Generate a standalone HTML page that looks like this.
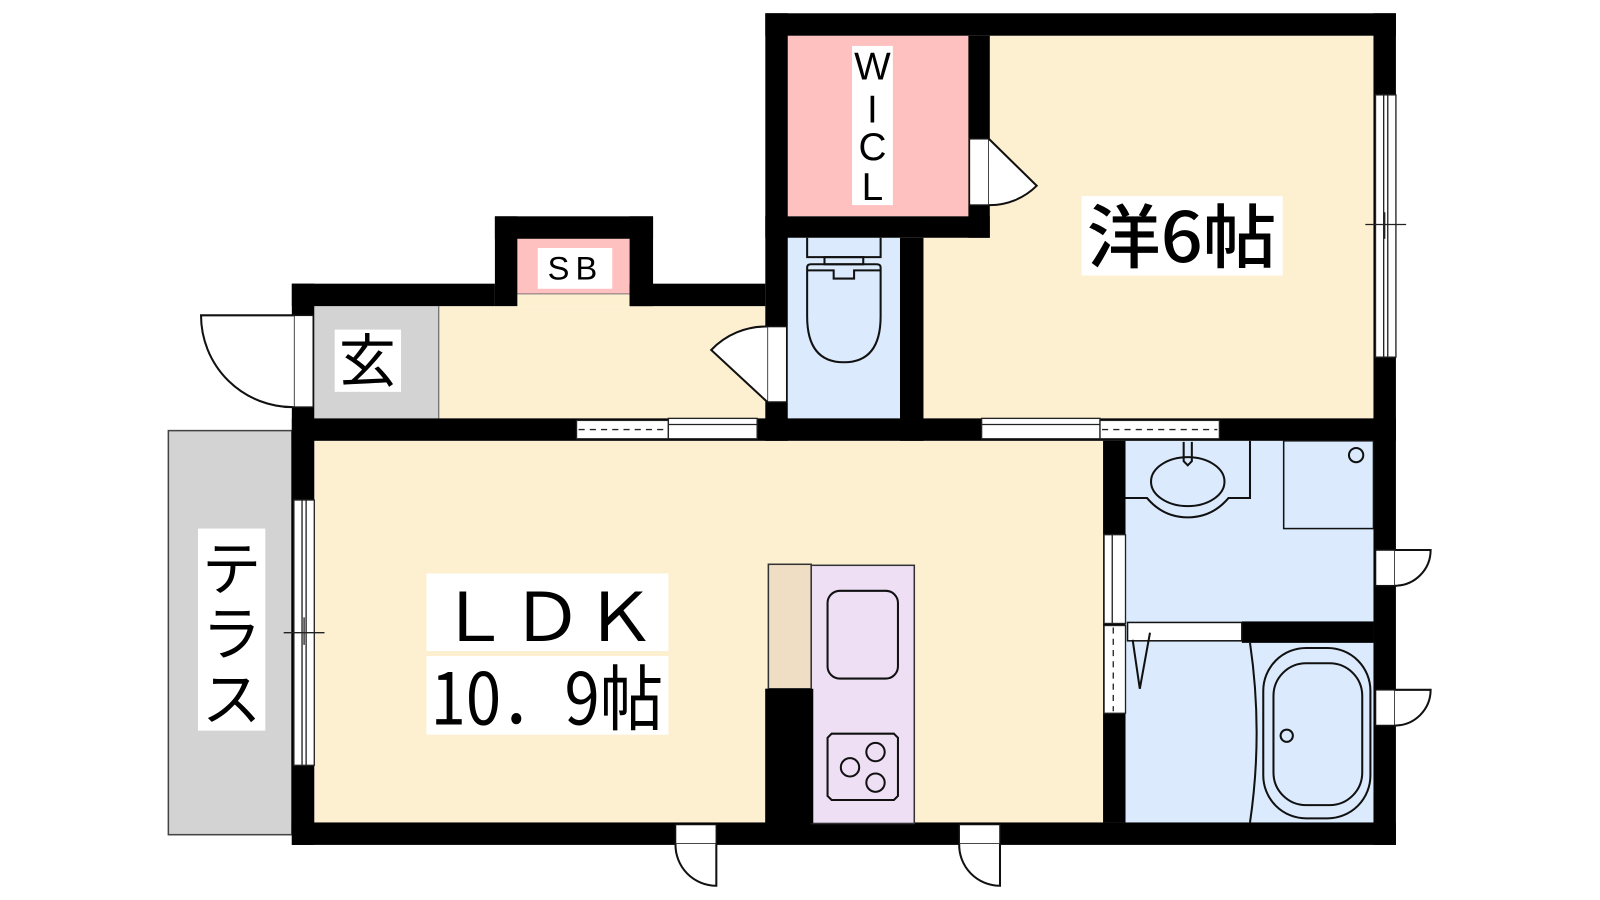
<!DOCTYPE html>
<html><head><meta charset="utf-8"><style>html,body{margin:0;padding:0;background:#fff}svg{display:block}</style></head>
<body>
<svg width="1600" height="900" viewBox="0 0 1568 882" preserveAspectRatio="none" xmlns="http://www.w3.org/2000/svg">
<rect width="1568" height="882" fill="#fff"/>
<!-- terrace -->
<rect x="165" y="422" width="121" height="396" fill="#d3d3d3" stroke="#444" stroke-width="1.5"/>
<!-- rooms -->
<rect x="905" y="35" width="441" height="375" fill="#fdf0d1"/>
<rect x="308" y="300" width="122" height="110" fill="#d3d3d3"/>
<rect x="430" y="300" width="320" height="110" fill="#fdf0d1"/>
<line x1="430" y1="300" x2="430" y2="410" stroke="#555" stroke-width="1"/>
<rect x="507" y="234" width="110" height="66" fill="#fdf0d1"/>
<rect x="507" y="234" width="110" height="54" fill="#ffc0c0"/>
<line x1="507" y1="288" x2="617" y2="288" stroke="#777" stroke-width="1"/>
<rect x="772" y="35" width="177" height="177" fill="#ffc0c0"/>
<rect x="772" y="233" width="110" height="177" fill="#dbebfd"/>
<rect x="308" y="432" width="773" height="374" fill="#fdf0d1"/>
<rect x="1103" y="432" width="243" height="374" fill="#dbebfd"/>
<!-- walls -->
<g fill="#000">
<rect x="750" y="13" width="618" height="22"/>
<rect x="1346" y="13" width="22" height="815"/>
<rect x="286" y="806" width="1082" height="22"/>
<rect x="286" y="278" width="22" height="550"/>
<rect x="286" y="278" width="199" height="22"/>
<rect x="485" y="212" width="22" height="88"/>
<rect x="485" y="212" width="155" height="22"/>
<rect x="617" y="212" width="23" height="88"/>
<rect x="617" y="278" width="133" height="22"/>
<rect x="750" y="13" width="22" height="419"/>
<rect x="949" y="35" width="21" height="198"/>
<rect x="750" y="212" width="220" height="21"/>
<rect x="882" y="233" width="23" height="199"/>
<rect x="286" y="410" width="1082" height="22"/>
<rect x="1081" y="432" width="22" height="374"/>
<rect x="1217" y="609" width="129" height="21"/>
<rect x="750" y="675" width="49" height="132"/>
</g>
<!-- windows -->
<g stroke="#222" stroke-width="1.3" fill="#fff">
<rect x="565" y="412" width="90" height="18"/><line x1="567" y1="421" x2="653" y2="421" stroke-dasharray="6,5"/>
<rect x="655" y="410" width="87" height="20"/><line x1="655" y1="416" x2="742" y2="416"/>
<rect x="962" y="410" width="116" height="20"/><line x1="962" y1="416" x2="1078" y2="416"/>
<rect x="1078" y="412" width="117" height="18"/><line x1="1080" y1="421" x2="1193" y2="421" stroke-dasharray="6,5"/>
<rect x="288" y="490" width="20" height="260"/><line x1="296" y1="490" x2="296" y2="750"/><line x1="300" y1="490" x2="300" y2="750"/>
<line x1="278" y1="620" x2="318" y2="620"/><line x1="298" y1="605" x2="298" y2="632"/>
<rect x="1348" y="93" width="20" height="257"/><line x1="1356" y1="93" x2="1356" y2="350"/><line x1="1360" y1="93" x2="1360" y2="350"/>
<line x1="1338" y1="220" x2="1378" y2="220"/><line x1="1357" y1="208" x2="1357" y2="234"/>
<rect x="1082" y="524" width="21" height="87"/><line x1="1090" y1="524" x2="1090" y2="611"/>
<rect x="1082" y="613" width="21" height="86"/><line x1="1091" y1="615" x2="1091" y2="697" stroke-dasharray="6,5"/>
</g>
<!-- doors -->
<g stroke="#111" stroke-width="2" fill="#fff">
<rect x="288" y="309" width="19" height="90" stroke-width="1.5"/>
<path d="M288 309 L197 309 A90 90 0 0 0 288 399" />
<rect x="752" y="320" width="19" height="74" stroke-width="1.5"/>
<path d="M752 394 L697 343 A74 74 0 0 1 752 320"/>
<rect x="950" y="136" width="19" height="65" stroke-width="1.5"/>
<path d="M969 136 L1016 182 A65 65 0 0 1 969 201"/>
<rect x="1348" y="539" width="19" height="35" stroke-width="1.5"/>
<path d="M1367 539 L1402 539 A35 35 0 0 1 1367 574"/>
<rect x="1348" y="676" width="19" height="35" stroke-width="1.5"/>
<path d="M1367 676 L1402 676 A35 35 0 0 1 1367 711"/>
<rect x="662" y="808" width="40" height="19" stroke-width="1.5"/>
<path d="M702 827 L702 868 A40 40 0 0 1 662 827"/>
<rect x="940" y="808" width="40" height="19" stroke-width="1.5"/>
<path d="M980 827 L980 868 A40 40 0 0 1 940 827"/>
</g>
<!-- toilet -->
<g stroke="#111" stroke-width="2" fill="none">
<path d="M791 233 V252 H863 V233"/>
<rect x="808" y="252" width="38" height="7"/>
<path d="M791 262 Q791 259 795 259 H859 Q863 259 863 262 V310 Q863 355 827 355 Q791 355 791 310 Z"/>
<path d="M791 265 H817 V273 H837 V265 H863"/>
</g>
<!-- kitchen -->
<rect x="753" y="553" width="42" height="122" fill="#efdec3" stroke="#333" stroke-width="1.5"/>
<rect x="795" y="554" width="101" height="253" fill="#eedff5" stroke="#333" stroke-width="1.5"/>
<rect x="750" y="675" width="47" height="132" fill="#000"/>
<g stroke="#111" stroke-width="2" fill="none">
<rect x="811" y="579" width="69" height="86" rx="12"/>
<path d="M815 719 H876 L880 723 V780 L876 784 H815 L811 780 V723 Z"/>
<circle cx="833" cy="752" r="9"/><circle cx="858" cy="737" r="9"/><circle cx="858" cy="767" r="9"/>
</g>
<!-- bath -->
<g stroke="#111" stroke-width="2" fill="none">
<path d="M1103 488 H1124 Q1140 507 1164 507 Q1188 507 1204 488 H1225 V432"/>
<ellipse cx="1164" cy="472" rx="36" ry="24"/>
<path d="M1160 433 V452 L1164 456 L1168 452 V433"/>
<rect x="1258" y="432" width="88" height="86" stroke-width="1.5"/>
<circle cx="1329" cy="446" r="7"/>
<rect x="1105" y="610" width="112" height="18" fill="#fff" stroke-width="1.5"/>
<path d="M1110 627 L1117 675 L1127 620"/>
<path d="M1225 630 Q1238 718 1225 806"/>
<rect x="1238" y="635" width="105" height="167" rx="42"/>
<rect x="1248" y="650" width="87" height="139" rx="32"/>
<circle cx="1261" cy="721" r="6"/>
</g>
<!-- labels -->
<g font-family="'Liberation Sans','Noto Sans CJK JP',sans-serif" fill="#000">
<rect x="1060" y="192" width="197" height="78" fill="#fff"/>
<text x="1158" y="257" font-size="68" text-anchor="middle" textLength="186" lengthAdjust="spacingAndGlyphs" font-family="'Noto Sans CJK JP',sans-serif" font-weight="500">洋6帖</text>
<rect x="418" y="562" width="237" height="76" fill="#fff"/>
<rect x="418" y="643" width="237" height="77" fill="#fff"/>
<text x="536" y="628" font-size="66" text-anchor="middle" textLength="215" lengthAdjust="spacingAndGlyphs" font-family="'Noto Sans CJK JP',sans-serif">ＬＤＫ</text>
<text x="536" y="710" font-size="70" text-anchor="middle" textLength="228" lengthAdjust="spacingAndGlyphs" font-family="'Noto Sans CJK JP',sans-serif">10．9帖</text>
<rect x="194" y="518" width="66" height="198" fill="#fff"/>
<g font-size="58" text-anchor="middle" font-family="'Noto Sans CJK JP',sans-serif">
<text x="227" y="578">テ</text><text x="227" y="642">ラ</text><text x="227" y="706">ス</text>
</g>
<rect x="328" y="323" width="65" height="61" fill="#fff"/>
<text x="360" y="374" font-size="56" text-anchor="middle" font-family="'Noto Sans CJK JP',sans-serif">玄</text>
<rect x="527" y="243" width="73" height="40" fill="#fff"/>
<text x="564" y="274" font-size="32" text-anchor="middle" letter-spacing="6">SB</text>
<rect x="835" y="45" width="40" height="156" fill="#fff"/>
<g font-size="38" text-anchor="middle">
<text x="855" y="78">W</text><text x="855" y="120">I</text><text x="855" y="157">C</text><text x="855" y="196">L</text>
</g>
</g>
</svg>
</body></html>
